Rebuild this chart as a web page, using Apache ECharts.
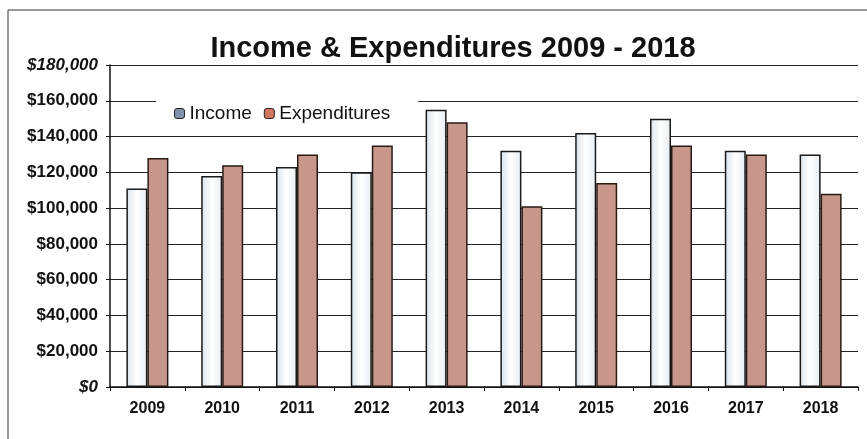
<!DOCTYPE html>
<html>
<head>
<meta charset="utf-8">
<script src="https://cdn.jsdelivr.net/npm/echarts@6/dist/echarts.min.js"></script>
<style>
  html, body { margin: 0; padding: 0; background: #fff; }
  #main { width: 867px; height: 439px; }
</style>
</head>
<body>
<div id="main"></div>
<script>
var chartDom = document.getElementById('main');
var myChart = echarts.init(chartDom);
var option;

const years = ['2009', '2010', '2011', '2012', '2013', '2014', '2015', '2016', '2017', '2018'];
const income = [111000, 118000, 123000, 120000, 155000, 132000, 142000, 150000, 132000, 130000];
const expenditures = [128000, 124000, 130000, 135000, 148000, 101000, 114000, 135000, 130000, 108000];

const FONT = '"Liberation Sans", Arial, sans-serif';
const incomeFill = new echarts.graphic.LinearGradient(0, 0, 1, 0, [
  { offset: 0, color: '#d8e4ec' },
  { offset: 0.5, color: '#ffffff' },
  { offset: 1, color: '#e6edf2' }
]);
const expColor = '#c6978a';

function moneyLabel(v) {
  const s = '$' + v.toLocaleString('en-US');
  return (v === 0 || v === 180000) ? '{i|' + s + '}' : '{b|' + s + '}';
}

option = {
  backgroundColor: '#fff',
  animation: false,
  title: {
    text: 'Income & Expenditures 2009 - 2018',
    left: 448,
    textAlign: 'center',
    top: 29,
    textStyle: { fontFamily: FONT, fontSize: 29, fontWeight: 'bold', color: '#111' }
  },
  graphic: [
    { type: 'line', shape: { x1: 8, y1: 10, x2: 867, y2: 10 }, style: { stroke: '#333', lineWidth: 1 } },
    { type: 'line', shape: { x1: 8, y1: 10, x2: 8, y2: 439 }, style: { stroke: '#333', lineWidth: 1 } }
  ],
  legend: {
    left: 156,
    top: 98,
    padding: [6, 28, 6, 18],
    backgroundColor: '#fff',
    itemWidth: 10,
    itemHeight: 10,
    itemGap: 12,
    textStyle: { fontFamily: FONT, fontSize: 19, color: '#111' },
    data: [
      { name: 'Income', itemStyle: { color: '#7f93ab', borderColor: '#222', borderWidth: 1 } },
      { name: 'Expenditures', itemStyle: { color: '#d47560', borderColor: '#222', borderWidth: 1 } }
    ]
  },
  grid: { left: 110, right: 9, top: 65, bottom: 52 },
  xAxis: {
    type: 'category',
    data: years,
    axisLine: { lineStyle: { color: '#111', width: 1.5 } },
    axisTick: { show: true, length: 4, lineStyle: { color: '#111' } },
    axisLabel: { fontFamily: FONT, fontSize: 16, fontWeight: 'bold', color: '#111', margin: 14 }
  },
  yAxis: {
    type: 'value',
    min: 0,
    max: 180000,
    interval: 20000,
    axisLine: { show: true, lineStyle: { color: '#111', width: 1.5 } },
    axisTick: { show: true, length: 4, lineStyle: { color: '#111' } },
    splitLine: { lineStyle: { color: '#222', width: 1.2 } },
    axisLabel: {
      margin: 12,
      formatter: moneyLabel,
      rich: {
        b: { fontFamily: FONT, fontSize: 17, fontWeight: 'bold', color: '#111' },
        i: { fontFamily: FONT, fontSize: 17, fontWeight: 'bold', fontStyle: 'italic', color: '#111' }
      }
    }
  },
  series: [
    {
      name: 'Income',
      type: 'bar',
      data: income,
      barWidth: 21,
      barGap: '0%',
      itemStyle: { color: incomeFill, borderColor: '#1a1a1a', borderWidth: 1.5 }
    },
    {
      name: 'Expenditures',
      type: 'bar',
      data: expenditures,
      barWidth: 21,
      itemStyle: { color: expColor, borderColor: '#2a1a14', borderWidth: 1.5 }
    }
  ]
};

option && myChart.setOption(option);
</script>
</body>
</html>
